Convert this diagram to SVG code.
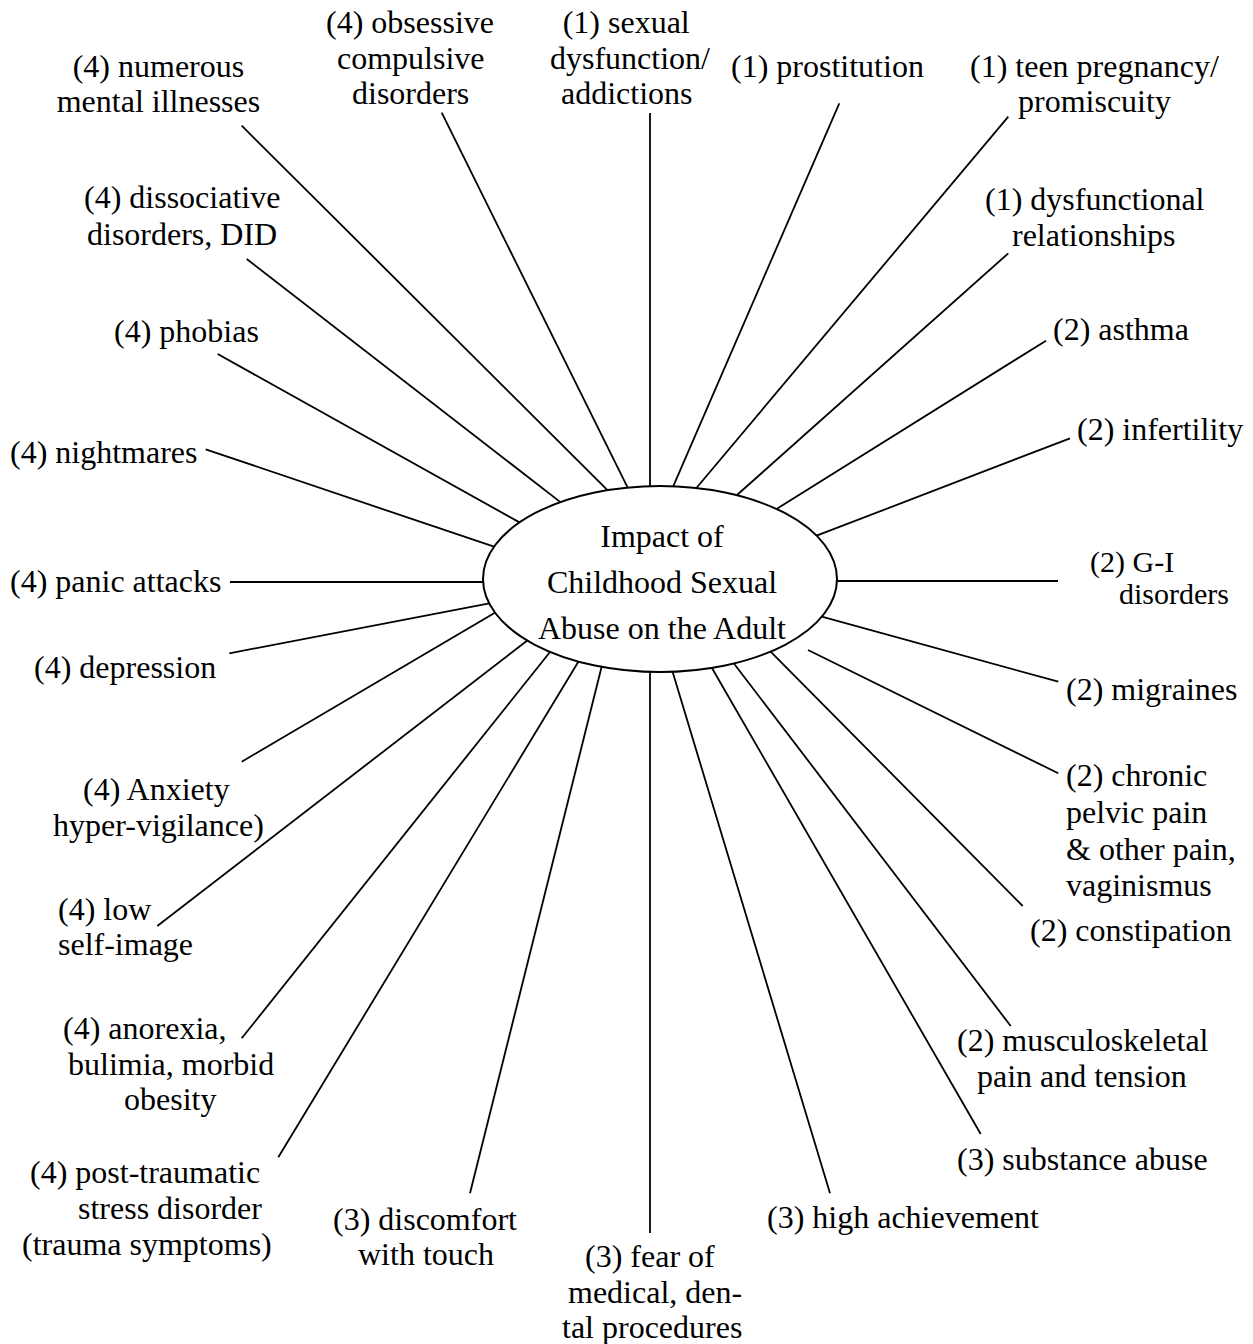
<svg xmlns="http://www.w3.org/2000/svg" width="1253" height="1344" viewBox="0 0 1253 1344">
<style>
text { font-family: "Liberation Serif", "Times New Roman", serif; font-size: 32px; fill: #000; }
.gi { font-size: 30px; }
.c { text-anchor: middle; }
#connectors line { stroke: #000; stroke-width: 1.8; }
ellipse { fill: #fff; stroke: #000; stroke-width: 2; }
</style>
<rect width="1253" height="1344" fill="#fff"/>
<g id="connectors">
<line x1="241.7" y1="125.7" x2="607.7" y2="490.3"/>
<line x1="441.7" y1="112.7" x2="627.7" y2="487.7"/>
<line x1="650" y1="113" x2="650" y2="486.5"/>
<line x1="839.3" y1="103.3" x2="673.2" y2="486.3"/>
<line x1="1008.3" y1="116.7" x2="696.4" y2="488"/>
<line x1="1008.3" y1="253.3" x2="737" y2="495"/>
<line x1="1046" y1="340.7" x2="776.5" y2="508.9"/>
<line x1="1070" y1="438.3" x2="816.6" y2="535.7"/>
<line x1="837" y1="581" x2="1058" y2="581"/>
<line x1="1058.3" y1="681.7" x2="821.8" y2="616.7"/>
<line x1="1058.3" y1="773.3" x2="808" y2="650"/>
<line x1="1022.7" y1="906" x2="770.6" y2="651.6"/>
<line x1="1010.7" y1="1026" x2="734.1" y2="663.7"/>
<line x1="980.7" y1="1134" x2="711.5" y2="667.2"/>
<line x1="830" y1="1193.3" x2="672.5" y2="671.5"/>
<line x1="650" y1="671.8" x2="650" y2="1233"/>
<line x1="470" y1="1193.3" x2="601.6" y2="666.8"/>
<line x1="278.3" y1="1157.3" x2="578.5" y2="661.5"/>
<line x1="241.7" y1="1038.3" x2="550" y2="652"/>
<line x1="157.3" y1="926" x2="527.3" y2="640.5"/>
<line x1="241.7" y1="761.7" x2="494.9" y2="612.7"/>
<line x1="229.3" y1="653.3" x2="489.3" y2="603.4"/>
<line x1="230" y1="582" x2="483" y2="582"/>
<line x1="205.7" y1="449.3" x2="494" y2="546.7"/>
<line x1="217.7" y1="354" x2="519.5" y2="522.4"/>
<line x1="246.7" y1="259" x2="560.4" y2="502.1"/>
</g>
<g id="center">
<ellipse cx="660" cy="579" rx="177" ry="93"/>
<text class="c" x="662" y="547">Impact of</text>
<text class="c" x="662" y="593">Childhood Sexual</text>
<text class="c" x="662" y="639">Abuse on the Adult</text>
</g>
<g id="n-numerous"><text x="72.7" y="77">(4) numerous</text><text x="56.7" y="112">mental illnesses</text></g>
<g id="n-obsessive"><text x="326" y="32.5">(4) obsessive</text><text x="337" y="68.5">compulsive</text><text x="352" y="104">disorders</text></g>
<g id="n-sexual"><text x="562.7" y="32.5">(1) sexual</text><text x="550" y="68.5">dysfunction/</text><text x="561" y="103.5">addictions</text></g>
<g id="n-prostitution"><text x="731" y="77">(1) prostitution</text></g>
<g id="n-teen"><text x="970" y="77">(1) teen pregnancy/</text><text x="1018" y="112">promiscuity</text></g>
<g id="n-relationships"><text x="985" y="210">(1) dysfunctional</text><text x="1012" y="246">relationships</text></g>
<g id="n-asthma"><text x="1053" y="340">(2) asthma</text></g>
<g id="n-infertility"><text x="1077" y="440">(2) infertility</text></g>
<g id="n-gi"><text class="gi" x="1090" y="572">(2) G-I</text><text class="gi" x="1119" y="604">disorders</text></g>
<g id="n-migraines"><text x="1066" y="700">(2) migraines</text></g>
<g id="n-pelvic"><text x="1066" y="786">(2) chronic</text><text x="1066" y="823">pelvic pain</text><text x="1066" y="860">&amp; other pain,</text><text x="1066" y="896">vaginismus</text></g>
<g id="n-constipation"><text x="1030" y="941">(2) constipation</text></g>
<g id="n-musculoskeletal"><text x="957" y="1051">(2) musculoskeletal</text><text x="977" y="1087">pain and tension</text></g>
<g id="n-substance"><text x="957" y="1170">(3) substance abuse</text></g>
<g id="n-achievement"><text x="767" y="1228">(3) high achievement</text></g>
<g id="n-fear"><text x="585" y="1267">(3) fear of</text><text x="568" y="1303">medical, den-</text><text x="562" y="1338">tal procedures</text></g>
<g id="n-touch"><text x="333" y="1230">(3) discomfort</text><text x="358" y="1265">with touch</text></g>
<g id="n-ptsd"><text x="30" y="1183">(4) post-traumatic</text><text x="78" y="1219">stress disorder</text><text x="22" y="1255">(trauma symptoms)</text></g>
<g id="n-anorexia"><text x="63" y="1039">(4) anorexia,</text><text x="68" y="1075">bulimia, morbid</text><text x="124" y="1110">obesity</text></g>
<g id="n-selfimage"><text x="58" y="920">(4) low</text><text x="58" y="955">self-image</text></g>
<g id="n-anxiety"><text x="83" y="800">(4) Anxiety</text><text x="53" y="836">hyper-vigilance)</text></g>
<g id="n-depression"><text x="34" y="678">(4) depression</text></g>
<g id="n-panic"><text x="10" y="592">(4) panic attacks</text></g>
<g id="n-nightmares"><text x="10" y="463">(4) nightmares</text></g>
<g id="n-phobias"><text x="114" y="342">(4) phobias</text></g>
<g id="n-dissociative"><text x="84" y="208">(4) dissociative</text><text x="87" y="245">disorders, DID</text></g>
</svg>
